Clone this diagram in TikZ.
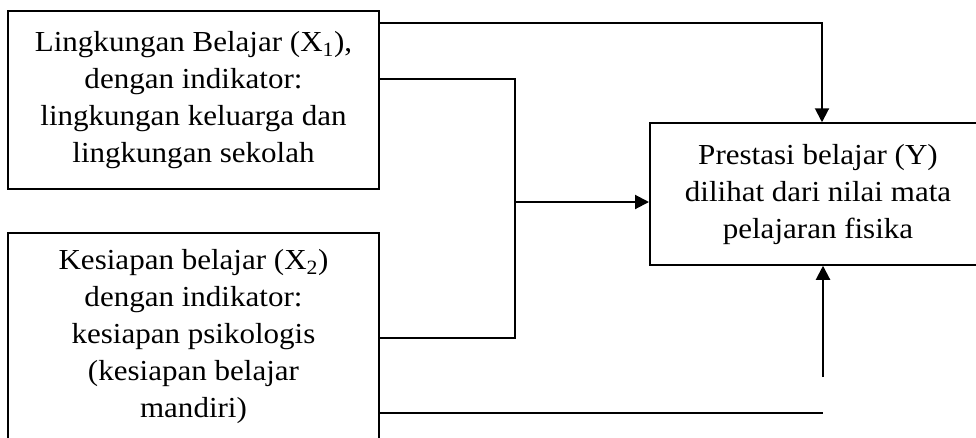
\documentclass[tikz,border=0pt]{standalone}
\usepackage{fontspec}
\setmainfont[FakeStretch=1.07]{Liberation Serif}
\usetikzlibrary{arrows.meta,positioning}
\tikzset{
  varfont/.style={font=\fontsize{29}{37}\selectfont},
  varbox/.style={draw, line width=1.5pt, inner sep=0pt, align=center, varfont},
  link/.style={line width=2pt},
  thinlink/.style={line width=1.4pt},
  arr/.style={-{Triangle[length=14pt,width=14pt]}}
}
\begin{document}
\begin{tikzpicture}[x=1pt,y=-1pt]
  \useasboundingbox (0,0) rectangle (976,437);
  \clip (0,0) rectangle (976,437);
  % independent variables
  \node[varbox, minimum width=371pt, minimum height=178pt] (x1) at (193.5,100)
    {Lingkungan Belajar (X\textsubscript{1}),\\dengan indikator:\\lingkungan keluarga dan\\lingkungan sekolah};
  \node[varbox, minimum width=371pt, minimum height=222pt] (x2) at (193.5,344)
    {};
  \node[varfont, align=center, anchor=north] (x2t) at (193.5,246)
    {Kesiapan belajar (X\textsubscript{2})\\dengan indikator:\\kesiapan psikologis\\(kesiapan belajar\\mandiri)};
  % dependent variable, running past the right edge
  \node[varbox, anchor=west, minimum width=380pt, minimum height=142pt] (y) at (649,194) {};
  \node[varfont, align=center] (yt) at (818,195)
    {Prestasi belajar (Y)\\dilihat dari nilai mata\\pelajaran fisika};
  % junction points
  \coordinate (topturn) at (822,23);
  \coordinate (jtop) at (515,79);
  \coordinate (jmid) at (515,202);
  \coordinate (jbot) at (515,338);
  \coordinate (lowend) at (823,413);
  \coordinate (lowstart) at (823,377);
  % connectors
  \draw[link, arr] (x1.east |- topturn) -- (topturn) -- (topturn |- y.north);
  \draw[link] (x1.east |- jtop) -- (jtop) -- (jbot) -- (x2.east |- jbot);
  \draw[link, arr] (jmid) -- (y.west |- jmid);
  \draw[thinlink] (x2.east |- lowend) -- (lowend);
  \draw[link, arr] (lowstart) -- (lowstart |- y.south);
\end{tikzpicture}
\end{document}
